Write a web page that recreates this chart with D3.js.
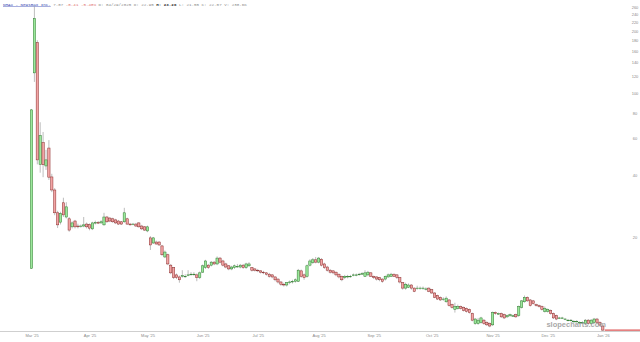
<!DOCTYPE html>
<html>
<head>
<meta charset="utf-8">
<script src="https://cdn.jsdelivr.net/npm/d3@7"></script>
<style>
  body { margin: 0; background: #fff; }
  svg { display: block; }
</style>
</head>
<body>
<div id="chart"></div>
<script>
// daily candles, NMAX, from the IPO day (index 0) to the last session
const opens = [14.1,125,175,45,57.3,44.2,54,39.1,33.8,26.2,23.6,29.3,25.0,24.5,22.4,23.9,22.6,22.6,22.6,23.1,
  22.95,21.9,23.4,23.5,23.4,22.9,25.0,24.7,24.5,24.2,23.9,23.7,23.7,24.5,23.1,23.1,23.1,23.4,22.6,22.4,
  21.4,19.8,18.7,18.9,18.9,18.1,16.0,16.4,14.6,14.2,13.1,12.8,12.9,12.9,13.1,13.2,13.2,13.1,12.7,13.5,
  14.2,14.6,14.6,15.1,14.8,15.8,15.3,14.8,14.5,14.0,14.2,14.4,14.3,14.6,14.2,14.5,14.2,14.0,13.8,13.7,
  13.5,13.4,13.2,13.1,12.8,12.5,12.1,11.8,11.7,12.0,12.1,12.2,12.2,13.7,13.1,12.9,14.6,15.0,15.5,15.1,
  15.6,14.8,14.3,13.8,13.7,13.5,13.2,12.9,12.7,12.8,12.9,13.0,13.1,13.2,13.2,12.9,13.1,13.4,12.9,12.8,
  12.7,12.5,12.5,12.8,12.9,13.2,13.1,12.7,12.0,11.3,11.4,11.7,11.3,11.3,11.3,11.3,11.2,11.3,11.1,10.7,
  10.4,10.2,10.0,9.7,9.9,9.4,8.9,9.0,9.2,9.1,9.0,8.9,8.5,7.6,7.6,7.7,7.9,7.7,7.6,7.5,
  8.6,8.5,8.5,8.4,8.2,8.3,8.3,8.4,8.3,9.1,9.7,10.2,9.9,9.8,9.4,9.3,9.2,8.7,8.7,8.8,
  8.5,8.3,8.1,8.1,8.0,7.9,7.9,7.8,7.8,7.7,7.7,7.6,7.9,7.6,7.7,8.0,7.7,7.40];
const highs = [83.5,262,180,72,64.6,52.9,59,40.5,34.5,26.8,26.5,31.0,29.5,25.0,23.8,24.2,23.2,23.0,25.0,23.5,
  23.26,23.7,24.0,23.9,24.1,26.2,25.3,25.0,24.8,24.5,24.2,23.9,27.7,24.8,23.4,23.4,23.4,23.6,22.9,22.6,
  22.7,20.2,20.0,19.2,19.1,18.3,17.2,16.6,14.8,14.3,13.3,13.0,13.8,13.2,13.8,13.5,13.5,13.3,13.6,14.7,
  15.5,14.8,15.3,15.3,16.1,16.0,15.5,15.0,14.6,14.5,14.7,14.8,14.8,14.8,15.0,15.1,14.3,14.1,14.0,13.8,
  13.7,13.5,13.4,13.2,12.9,12.6,12.2,12.0,12.1,12.3,12.4,12.6,14.0,13.9,13.3,14.7,15.6,15.8,16.0,16.0,
  15.8,15.0,14.5,14.0,13.8,13.6,13.3,13.0,13.1,13.1,13.1,13.3,13.3,13.4,13.5,13.8,13.7,13.5,13.0,12.9,
  12.8,12.6,13.0,13.3,13.4,13.3,13.2,12.8,12.1,12.0,11.9,11.8,11.4,11.6,11.5,11.5,11.4,11.4,11.2,10.8,
  10.5,10.3,10.2,10.3,10.0,9.5,9.6,9.4,9.3,9.2,9.1,9.0,8.6,8.1,8.1,8.2,8.0,7.8,7.7,8.7,
  8.7,8.6,8.6,8.5,8.4,8.5,8.4,8.5,9.3,9.9,10.4,10.3,10.0,9.9,9.5,9.4,9.3,9.2,9.0,8.9,
  8.6,8.4,8.2,8.2,8.1,8.0,8.0,7.9,7.9,7.8,7.8,8.0,8.0,8.0,8.1,8.1,7.8,7.45];
const lows = [14.0,113,45,41,39,42.3,37.8,33,25.5,22.1,23.0,25.0,24.6,21.2,22.0,22.0,22.0,22.2,22.3,22.0,
  21.55,21.6,23.0,23.1,23.2,22.7,23.4,23.6,23.4,23.1,22.9,22.9,23.4,22.9,22.7,22.8,22.4,22.2,21.6,21.4,
  21.1,17.3,18.5,18.3,18.1,16.2,15.8,14.6,13.2,12.5,12.5,12.0,12.7,12.7,12.9,13.0,13.0,12.2,12.5,13.4,
  14.0,14.0,14.4,14.6,14.6,14.9,14.4,14.1,13.8,13.8,14.0,14.2,14.1,14.0,14.0,14.3,13.6,13.6,13.5,13.3,
  13.2,13.0,12.7,12.6,12.2,11.9,11.6,11.5,11.5,11.8,11.9,12.0,12.1,12.7,12.4,12.7,14.4,14.8,14.9,14.9,
  14.4,14.0,13.6,13.3,13.2,12.9,12.6,12.2,12.5,12.6,12.7,12.9,12.9,13.0,13.1,12.8,12.9,12.8,12.5,12.3,
  12.2,12.0,12.3,12.7,12.8,12.8,12.5,11.9,11.1,11.1,11.3,11.1,10.8,11.1,11.1,11.1,11.0,10.8,10.6,10.1,
  9.9,9.8,9.8,9.6,9.2,9.0,8.6,8.9,8.9,8.7,8.6,8.5,7.8,7.5,7.5,7.6,7.5,7.4,7.3,7.4,
  8.4,8.4,8.1,8.0,8.1,8.2,8.2,8.1,8.2,9.0,9.6,9.7,9.2,9.4,9.2,9.1,8.8,8.6,8.6,8.4,
  8.0,7.9,8.0,8.0,7.9,7.8,7.8,7.7,7.7,7.6,7.6,7.5,7.5,7.5,7.6,7.6,7.4,7.0];
const closes = [82.7,229,47.3,62,44.8,47.3,39,33.8,26.2,22.9,26.0,25.6,28.0,21.6,23.4,22.4,22.4,22.6,22.9,22.4,
  22.07,23.4,23.5,23.4,23.7,25.0,23.7,23.9,23.7,23.4,23.1,23.1,26.2,23.1,22.9,23.1,22.6,22.4,21.9,21.6,
  22.4,18.3,19.8,18.5,18.3,16.4,16.9,14.8,13.4,12.7,12.7,12.4,13.0,12.9,13.1,13.2,13.2,12.7,13.4,14.5,
  15.3,14.2,15.1,14.8,15.8,15.1,14.6,14.3,14.0,14.3,14.5,14.4,14.6,14.2,14.8,14.8,13.8,13.8,13.7,13.5,
  13.4,13.2,12.9,12.8,12.4,12.1,11.8,11.7,12.0,12.1,12.2,12.4,13.8,12.9,12.7,14.5,15.3,15.5,15.1,15.8,
  14.6,14.2,13.8,13.5,13.4,13.1,12.8,12.4,12.9,12.9,12.9,13.1,13.1,13.2,13.3,13.4,13.5,12.9,12.7,12.5,
  12.4,12.2,12.9,13.1,13.2,12.9,12.7,12.1,11.3,11.8,11.7,11.3,10.9,11.3,11.3,11.3,11.2,10.9,10.7,10.2,
  10.0,9.9,10.0,10.1,9.3,9.1,9.2,9.2,9.0,8.8,8.7,8.6,7.9,8.0,7.9,8.1,7.6,7.5,7.4,8.6,
  8.5,8.5,8.2,8.1,8.3,8.4,8.3,8.2,9.2,9.8,10.2,9.8,9.3,9.5,9.3,9.2,8.9,9.0,8.9,8.5,
  8.1,8.0,8.1,8.1,8.0,7.9,7.9,7.8,7.8,7.7,7.7,7.9,7.6,7.9,8.0,7.7,7.48,7.07];

// tick labels
const xTickIndex = [0, 20, 40, 59, 78, 99, 118, 138, 159, 178, 197];
const xTickLabels = ["Mar '25", "Apr '25", "May '25", "Jun '25", "Jul '25", "Aug '25",
  "Sep '25", "Oct '25", "Nov '25", "Dec '25", "Jan '26"];
const yTickValues = [20, 40, 60, 80, 100, 120, 140, 160, 180, 200, 220, 240, 260];

const width = 640, height = 342;
const n = closes.length;

const svg = d3.select("#chart").append("svg")
  .attr("width", width)
  .attr("height", height);

const x = d3.scaleLinear().domain([0, n - 1]).range([31.5, 602.8]);
const y = d3.scaleLog().domain([7.0, 282]).range([331, 0]);

// header line
const header = svg.append("text")
  .attr("x", 3).attr("y", 5.5)
  .style("font-family", "'Liberation Mono', 'DejaVu Sans Mono', monospace")
  .style("font-size", "4.2px")
  .attr("fill", "#8a8a8a");
header.append("tspan").text("NMAX - Newsmax Inc.")
  .attr("fill", "#3040b0").style("text-decoration", "underline");
header.append("tspan").text(" 7.07 ");
header.append("tspan").text("-0.41 -5.48%").attr("fill", "#e07070");
header.append("tspan").text(" D: 04/29/2025 O: 22.95 ");
header.append("tspan").text("H: 23.26").attr("fill", "#333").style("font-weight", "bold");
header.append("tspan").text(" L: 21.55 C: 22.07 V: 238.6K");

// x axis base line
svg.append("line")
  .attr("x1", 0).attr("x2", width)
  .attr("y1", 331.5).attr("y2", 331.5)
  .attr("stroke", "#cfcfcf").attr("stroke-width", 1);

// bottom labels
const xAxis = svg.append("g")
  .attr("transform", "translate(0,333)")
  .call(d3.axisBottom(x).tickValues(xTickIndex)
    .tickFormat((d, i) => xTickLabels[i]).tickSize(0).tickPadding(1));
xAxis.select(".domain").remove();
xAxis.selectAll("text")
  .style("font-family", "'Liberation Sans', Arial, sans-serif")
  .style("font-size", "4px").attr("fill", "#8a8a8a");

// right labels
const yAxis = svg.append("g")
  .attr("transform", "translate(635,0)")
  .call(d3.axisRight(y).tickValues(yTickValues).tickFormat(d3.format("d")).tickSize(0).tickPadding(0));
yAxis.select(".domain").remove();
yAxis.selectAll("text")
  .attr("text-anchor", "middle")
  .style("font-family", "'Liberation Sans', Arial, sans-serif")
  .style("font-size", "4px").attr("fill", "#8a8a8a");

// candles
const candles = d3.range(n).map(i => ({ i: i, o: opens[i], h: highs[i], l: lows[i], c: closes[i] }));
const bw = 2.3;

const g = svg.append("g");
g.selectAll("line.wick")
  .data(candles)
  .enter()
  .append("line")
  .attr("class", "wick")
  .attr("x1", d => x(d.i)).attr("x2", d => x(d.i))
  .attr("y1", d => y(d.h)).attr("y2", d => y(d.l))
  .attr("stroke", "#7a7a7a").attr("stroke-width", 0.5);

g.selectAll("rect.body")
  .data(candles)
  .enter()
  .append("rect")
  .attr("class", "body")
  .attr("x", d => x(d.i) - bw / 2)
  .attr("y", d => y(Math.max(d.o, d.c)))
  .attr("width", bw)
  .attr("height", d => Math.max(0.6, Math.abs(y(d.o) - y(d.c))))
  .attr("fill", d => d.c >= d.o ? "#9be89b" : "#f2a4a4")
  .attr("stroke", d => d.c >= d.o ? "#2f7a2f" : "#8a2a2a")
  .attr("stroke-width", 0.5);

// last price line
svg.append("line")
  .attr("x1", x(n - 1) + 2).attr("x2", width)
  .attr("y1", y(closes[n - 1])).attr("y2", y(closes[n - 1]))
  .attr("stroke", "#d42a2a").attr("stroke-width", 1);

// watermark
svg.append("text")
  .attr("x", 606).attr("y", 327)
  .attr("text-anchor", "end")
  .style("font-family", "'Liberation Sans', Arial, sans-serif")
  .style("font-size", "7.5px")
  .style("font-weight", "bold")
  .attr("fill", "#9a9a9a")
  .attr("opacity", 0.85)
  .text("slopecharts.com");
</script>
</body>
</html>
